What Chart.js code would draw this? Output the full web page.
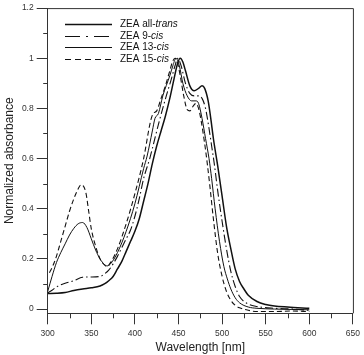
<!DOCTYPE html>
<html><head><meta charset="utf-8">
<script src="https://cdn.jsdelivr.net/npm/chart.js@4/dist/chart.umd.min.js"></script>
<style>html,body{margin:0;padding:0;background:#fff;}#wrap{width:364px;height:355px;position:relative;}</style>
</head><body><div id="wrap"><canvas id="c" width="364" height="355"></canvas></div>
<script>
// ---- data ----
const labelPrefix = ['ZEA all-', 'ZEA 9-', 'ZEA 13-', 'ZEA 15-'];
const labelItalic = ['trans', 'cis', 'cis', 'cis'];

const transNm = [300,310,320,330,340,350,360,365,370,375,380,385,390,395,400,405,410,415,420,425,430,435,440,445,449,452,455,458,463,468,473,477,480,484,487,490,495,500,505,510,515,520,525,530,540,550,560,575,600];
const transAbs = [0.062,0.063,0.066,0.074,0.080,0.085,0.092,0.100,0.113,0.130,0.160,0.190,0.230,0.270,0.310,0.360,0.430,0.500,0.580,0.650,0.710,0.770,0.840,0.920,0.980,1.000,0.985,0.950,0.890,0.870,0.880,0.890,0.880,0.830,0.760,0.680,0.570,0.450,0.330,0.240,0.160,0.110,0.080,0.055,0.030,0.018,0.012,0.008,0.003];

const nineNm = [300,305,310,315,320,330,340,350,360,365,370,375,380,385,390,395,400,405,410,417,420,428,436,442,446,449,453,458,463,468,473,477,481,485,488,491,495,500,505,510,515,520,530,540,560,580,600];
const nineAbs = [0.065,0.075,0.088,0.097,0.103,0.113,0.127,0.128,0.130,0.140,0.155,0.180,0.210,0.245,0.280,0.315,0.370,0.440,0.520,0.600,0.640,0.750,0.850,0.920,0.970,1.000,0.970,0.900,0.860,0.850,0.850,0.840,0.800,0.720,0.650,0.580,0.470,0.350,0.240,0.150,0.090,0.050,0.020,0.010,0.003,0.000,-0.005];

const thirteenNm = [300,305,310,315,320,325,330,335,340,345,350,355,360,365,368,372,380,390,400,410,414,420,423,427,432,440,444,447,451,455,460,465,470,473,477,481,485,488,492,497,502,506,510,515,520,530,540,560,600];
const thirteenAbs = [0.070,0.130,0.185,0.225,0.260,0.295,0.322,0.340,0.345,0.325,0.280,0.235,0.200,0.178,0.172,0.180,0.225,0.310,0.420,0.560,0.610,0.710,0.760,0.780,0.850,0.930,0.975,1.000,0.970,0.900,0.850,0.830,0.830,0.820,0.760,0.680,0.600,0.520,0.400,0.270,0.170,0.120,0.080,0.045,0.025,0.008,0.003,0.000,-0.003];

const fifteenNm = [302,305,310,315,320,325,330,335,338,341,344,347,350,355,360,365,368,372,380,390,400,410,418,421,425,430,435,440,443,446,449,452,456,460,463,467,470,473,476,480,483,486,490,495,500,505,510,515,520,530,540,560,580,600];
const fifteenAbs = [0.145,0.165,0.210,0.270,0.330,0.390,0.440,0.480,0.495,0.490,0.460,0.390,0.320,0.250,0.200,0.176,0.170,0.185,0.240,0.340,0.460,0.600,0.750,0.780,0.790,0.840,0.890,0.950,0.985,1.000,0.980,0.930,0.850,0.795,0.790,0.810,0.820,0.800,0.750,0.660,0.580,0.490,0.360,0.220,0.130,0.070,0.035,0.015,0.005,-0.005,-0.010,-0.010,-0.008,-0.010];

const xMajorTicks = [300,350,400,450,500,550,600,650];
const xMinorTicks = [325,375,425,475,525,575,625];
const yMajorTicks = [0,0.2,0.4,0.6,0.8,1,1.2];
const yMinorTicks = [0.1,0.3,0.5,0.7,0.9,1.1];

// ---- styles ----
const AX = '#333';
const FONT = '"Liberation Sans", Arial, sans-serif';
const seriesStyle = [
  {w:1.5, dash:[], legendDash:[]},
  {w:1.1, dash:[8,3,1.5,3], legendDash:[15,6,2,6]},
  {w:1.0, dash:[], legendDash:[]},
  {w:1.1, dash:[5,3], legendDash:[6,4]}
];
const seriesData = [[transNm,transAbs],[nineNm,nineAbs],[thirteenNm,thirteenAbs],[fifteenNm,fifteenAbs]];

const datasets = seriesData.map((s, i) => ({
  label: labelPrefix[i] + labelItalic[i],
  data: s[0].map((x, j) => ({x: x, y: s[1][j]})),
  borderColor: '#111',
  borderWidth: seriesStyle[i].w,
  borderDash: seriesStyle[i].dash,
  pointRadius: 0,
  fill: false,
  cubicInterpolationMode: 'monotone'
}));

const extras = {
  id: 'extras',
  afterDraw(chart) {
    const ctx = chart.ctx, x = chart.scales.x, y = chart.scales.y, a = chart.chartArea;
    ctx.save();
    ctx.strokeStyle = AX; ctx.lineWidth = 1; ctx.setLineDash([]);
    // frame top/right
    ctx.beginPath();
    ctx.moveTo(a.left, a.top + 0.5); ctx.lineTo(a.right + 0.5, a.top + 0.5);
    ctx.lineTo(a.right + 0.5, a.bottom);
    ctx.stroke();
    // minor ticks
    ctx.beginPath();
    xMinorTicks.forEach(v => { const px = Math.round(x.getPixelForValue(v)) + 0.5; ctx.moveTo(px, a.bottom); ctx.lineTo(px, a.bottom + 5); });
    yMinorTicks.forEach(v => { const py = Math.round(y.getPixelForValue(v)) + 0.5; ctx.moveTo(a.left, py); ctx.lineTo(a.left - 4.5, py); });
    ctx.stroke();
    // legend
    const lx0 = 65, lx1 = 112, tx = 120, ly0 = 24, step = 11.7;
    ctx.fillStyle = '#111'; ctx.textBaseline = 'middle'; ctx.textAlign = 'left';
    chart.data.datasets.forEach((ds, i) => {
      const ly = Math.round(ly0 + i * step) + 0.5;
      ctx.strokeStyle = '#111'; ctx.lineWidth = seriesStyle[i].w;
      ctx.setLineDash(seriesStyle[i].legendDash);
      ctx.beginPath(); ctx.moveTo(lx0, ly); ctx.lineTo(lx1, ly); ctx.stroke();
      ctx.setLineDash([]);
      ctx.font = '10px ' + FONT;
      ctx.fillText(labelPrefix[i], tx, ly);
      const w = ctx.measureText(labelPrefix[i]).width;
      ctx.font = 'italic 10px ' + FONT;
      ctx.fillText(labelItalic[i], tx + w, ly);
    });
    ctx.restore();
  }
};

new Chart(document.getElementById('c'), {
  type: 'line',
  data: { datasets: datasets },
  plugins: [extras],
  options: {
    responsive: false, animation: false, devicePixelRatio: 1,
    layout: { padding: { left: 0, right: 6, top: 5, bottom: 0 } },
    plugins: { legend: { display: false }, tooltip: { enabled: false } },
    scales: {
      x: {
        type: 'linear', min: 300, max: 650,
        afterBuildTicks: s => { s.ticks = xMajorTicks.map(v => ({value: v})); },
        afterFit: s => { s.height = 41.7; },
        grid: { drawOnChartArea: false, color: AX, tickLength: 11 },
        border: { color: AX, width: 1 },
        ticks: { color: '#333', font: { family: FONT, size: 8.5 }, padding: 4, maxRotation: 0 },
        title: { display: true, text: 'Wavelength [nm]', color: '#222', font: { family: FONT, size: 12 }, padding: { top: 0, bottom: 0 } }
      },
      y: {
        type: 'linear', min: -0.017, max: 1.2,
        afterBuildTicks: s => { s.ticks = yMajorTicks.map(v => ({value: v})); },
        afterFit: s => { s.width = 47.7; },
        grid: { drawOnChartArea: false, color: AX, tickLength: 11 },
        border: { color: AX, width: 1 },
        ticks: { color: '#333', font: { family: FONT, size: 8.5 }, padding: 3, callback: v => String(Math.round(v * 10) / 10) },
        title: { display: true, text: 'Normalized absorbance', color: '#222', font: { family: FONT, size: 12 }, padding: { top: 2, bottom: 0 } }
      }
    }
  }
});
</script></body></html>
